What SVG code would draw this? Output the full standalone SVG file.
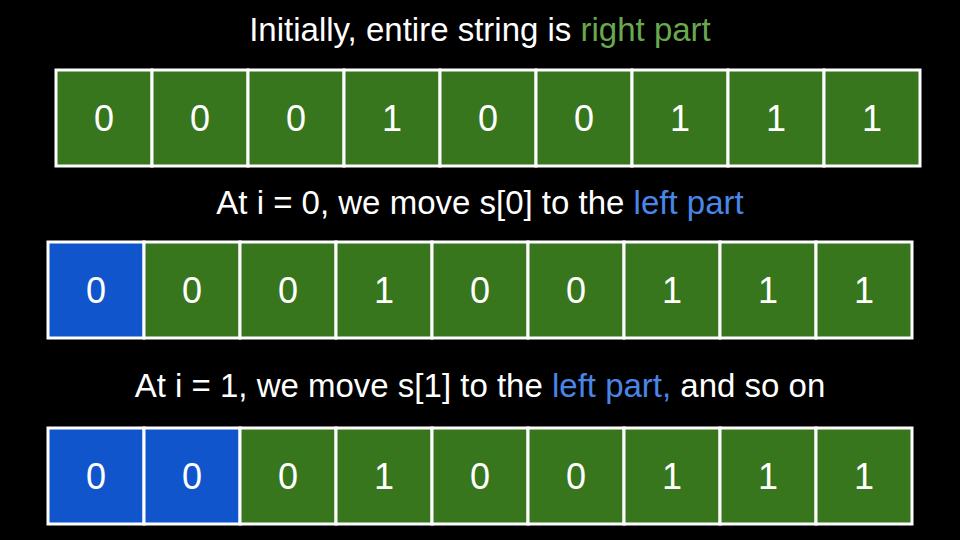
<svg xmlns="http://www.w3.org/2000/svg" width="960" height="540" viewBox="0 0 960 540">
<style>
.cell{stroke:#ffffff;stroke-width:3}
.g{fill:#38761d}
.b{fill:#1155cc}
.d{font-family:"Liberation Sans",Arial,sans-serif;font-size:36px;fill:#ffffff;text-anchor:middle}
.t{font-family:"Liberation Sans",Arial,sans-serif;font-size:33px;fill:#ffffff;text-anchor:middle}
.tg{fill:#6aa84f}
.tb{fill:#4a86e8}
</style>
<rect width="960" height="540" fill="#000000"/>
<text class="t" x="480" y="41">Initially, entire string is <tspan class="tg">right part</tspan></text>
<text class="t" x="480" y="214">At i = 0, we move s[0] to the <tspan class="tb">left part</tspan></text>
<text class="t" x="480" y="397">At i = 1, we move s[1] to the <tspan class="tb">left part,</tspan> and so on</text>
<g id="row1">
<g id="r1c0"><rect class="cell g" x="56" y="70" width="96" height="96"/><text class="d" x="104" y="131">0</text></g>
<g id="r1c1"><rect class="cell g" x="152" y="70" width="96" height="96"/><text class="d" x="200" y="131">0</text></g>
<g id="r1c2"><rect class="cell g" x="248" y="70" width="96" height="96"/><text class="d" x="296" y="131">0</text></g>
<g id="r1c3"><rect class="cell g" x="344" y="70" width="96" height="96"/><text class="d" x="392" y="131">1</text></g>
<g id="r1c4"><rect class="cell g" x="440" y="70" width="96" height="96"/><text class="d" x="488" y="131">0</text></g>
<g id="r1c5"><rect class="cell g" x="536" y="70" width="96" height="96"/><text class="d" x="584" y="131">0</text></g>
<g id="r1c6"><rect class="cell g" x="632" y="70" width="96" height="96"/><text class="d" x="680" y="131">1</text></g>
<g id="r1c7"><rect class="cell g" x="728" y="70" width="96" height="96"/><text class="d" x="776" y="131">1</text></g>
<g id="r1c8"><rect class="cell g" x="824" y="70" width="96" height="96"/><text class="d" x="872" y="131">1</text></g>
</g>
<g id="row2">
<g id="r2c0"><rect class="cell b" x="48" y="242" width="96" height="96"/><text class="d" x="96" y="303">0</text></g>
<g id="r2c1"><rect class="cell g" x="144" y="242" width="96" height="96"/><text class="d" x="192" y="303">0</text></g>
<g id="r2c2"><rect class="cell g" x="240" y="242" width="96" height="96"/><text class="d" x="288" y="303">0</text></g>
<g id="r2c3"><rect class="cell g" x="336" y="242" width="96" height="96"/><text class="d" x="384" y="303">1</text></g>
<g id="r2c4"><rect class="cell g" x="432" y="242" width="96" height="96"/><text class="d" x="480" y="303">0</text></g>
<g id="r2c5"><rect class="cell g" x="528" y="242" width="96" height="96"/><text class="d" x="576" y="303">0</text></g>
<g id="r2c6"><rect class="cell g" x="624" y="242" width="96" height="96"/><text class="d" x="672" y="303">1</text></g>
<g id="r2c7"><rect class="cell g" x="720" y="242" width="96" height="96"/><text class="d" x="768" y="303">1</text></g>
<g id="r2c8"><rect class="cell g" x="816" y="242" width="96" height="96"/><text class="d" x="864" y="303">1</text></g>
</g>
<g id="row3">
<g id="r3c0"><rect class="cell b" x="48" y="428" width="96" height="96"/><text class="d" x="96" y="489">0</text></g>
<g id="r3c1"><rect class="cell b" x="144" y="428" width="96" height="96"/><text class="d" x="192" y="489">0</text></g>
<g id="r3c2"><rect class="cell g" x="240" y="428" width="96" height="96"/><text class="d" x="288" y="489">0</text></g>
<g id="r3c3"><rect class="cell g" x="336" y="428" width="96" height="96"/><text class="d" x="384" y="489">1</text></g>
<g id="r3c4"><rect class="cell g" x="432" y="428" width="96" height="96"/><text class="d" x="480" y="489">0</text></g>
<g id="r3c5"><rect class="cell g" x="528" y="428" width="96" height="96"/><text class="d" x="576" y="489">0</text></g>
<g id="r3c6"><rect class="cell g" x="624" y="428" width="96" height="96"/><text class="d" x="672" y="489">1</text></g>
<g id="r3c7"><rect class="cell g" x="720" y="428" width="96" height="96"/><text class="d" x="768" y="489">1</text></g>
<g id="r3c8"><rect class="cell g" x="816" y="428" width="96" height="96"/><text class="d" x="864" y="489">1</text></g>
</g>
<g id="connectors"/>
</svg>
